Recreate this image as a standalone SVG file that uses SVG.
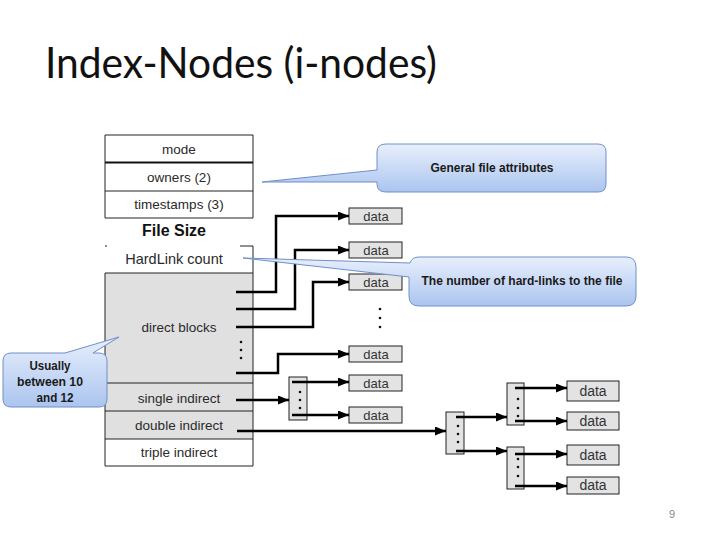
<svg xmlns="http://www.w3.org/2000/svg" width="720" height="540" viewBox="0 0 720 540">
<style>
.t{font-family:"Liberation Sans",Arial,sans-serif;fill:#2a2a2a;text-anchor:middle}
.row{font-size:13.5px}
.dt{font-size:13px;fill:#333}
.dtb{font-size:14px;fill:#333}
.cl{font-family:"Liberation Sans",Arial,sans-serif;font-weight:bold;font-size:12px;fill:#1a1a1a;text-anchor:middle}
.bx{fill:#e3e3e3;stroke:#222;stroke-width:1}
.ib{fill:#e3e3e3;stroke:#222;stroke-width:1}
.ln{fill:none;stroke:#000;stroke-width:2.5}
.co{fill:url(#cg);stroke:#6f8fc8;stroke-width:1}
.dot{fill:#111}
</style>
<defs>
<marker id="ah" markerUnits="userSpaceOnUse" markerWidth="12" markerHeight="10" refX="11" refY="4.5" orient="auto">
<path d="M0,0 L11,4.5 L0,9 z" fill="#000"/>
</marker>
<linearGradient id="cg" x1="0" y1="0" x2="0" y2="1">
<stop offset="0" stop-color="#e8effc"/>
<stop offset="1" stop-color="#abc5ef"/>
</linearGradient>
</defs>
<rect width="720" height="540" fill="#fff"/>
<text x="45" y="78" font-family="Lato,'Liberation Sans',Arial,sans-serif" font-size="42" fill="#111" textLength="392" lengthAdjust="spacingAndGlyphs">Index-Nodes (i-nodes)</text>

<g id="inode">
<rect x="105" y="273" width="148" height="166" fill="#e0e0e0"/>
<path d="M105,135 H253 M105,135 V218 M253,135 V218 M105,273 V466 M253,246 V466 M105,466 H253 M105,191 H253 M105,218 H253 M105,273 H253 M105,383 H253 M105,411 H253 M105,439 H253 M105,246 H107 M240,246 H253" fill="none" stroke="#222" stroke-width="1"/>
<path d="M105,162.5 H253" stroke="#111" stroke-width="2"/>
<text class="t row" x="179" y="154">mode</text>
<text class="t row" x="179" y="182">owners (2)</text>
<text class="t row" x="179" y="209">timestamps (3)</text>
<text class="t" x="174" y="236" font-size="16" font-weight="bold" style="fill:#111">File Size</text>
<text class="t" x="174" y="264" font-size="14.5">HardLink count</text>
<text class="t row" x="179" y="332">direct blocks</text>
<circle class="dot" cx="241" cy="342" r="1.3"/>
<circle class="dot" cx="241" cy="350" r="1.3"/>
<circle class="dot" cx="241" cy="358" r="1.3"/>
<text class="t row" x="179" y="403">single indirect</text>
<text class="t row" x="179" y="430">double indirect</text>
<text class="t row" x="179" y="457">triple indirect</text>
</g>

<g id="data-direct">
<rect class="bx" x="349" y="208" width="53" height="16"/><text class="t dt" x="376" y="221">data</text>
<rect class="bx" x="349" y="242" width="53" height="16"/><text class="t dt" x="376" y="255">data</text>
<rect class="bx" x="349" y="274" width="53" height="16"/><text class="t dt" x="376" y="287">data</text>
<circle class="dot" cx="380" cy="309" r="1.3"/>
<circle class="dot" cx="380" cy="318" r="1.3"/>
<circle class="dot" cx="380" cy="327" r="1.3"/>
<rect class="bx" x="349" y="346" width="53" height="16"/><text class="t dt" x="376" y="359">data</text>
<rect class="bx" x="349" y="375" width="53" height="16"/><text class="t dt" x="376" y="388">data</text>
<rect class="bx" x="349" y="407" width="53" height="16"/><text class="t dt" x="376" y="420">data</text>
</g>

<g id="single-block">
<rect class="ib" x="289" y="377" width="18" height="43"/>
<circle class="dot" cx="300" cy="392" r="1.3"/>
<circle class="dot" cx="300" cy="400" r="1.3"/>
<circle class="dot" cx="300" cy="408" r="1.3"/>
</g>
<g id="double-block">
<rect class="ib" x="446" y="412" width="18" height="42"/>
<circle class="dot" cx="458" cy="426" r="1.3"/>
<circle class="dot" cx="458" cy="434" r="1.3"/>
<circle class="dot" cx="458" cy="442" r="1.3"/>
</g>
<g id="block-a">
<rect class="ib" x="507" y="383" width="17" height="42"/>
<circle class="dot" cx="518" cy="399" r="1.3"/>
<circle class="dot" cx="518" cy="408" r="1.3"/>
<circle class="dot" cx="518" cy="416" r="1.3"/>
</g>
<g id="block-b">
<rect class="ib" x="507" y="447" width="17" height="42"/>
<circle class="dot" cx="518" cy="459" r="1.3"/>
<circle class="dot" cx="518" cy="467" r="1.3"/>
<circle class="dot" cx="518" cy="476" r="1.3"/>
</g>
<g id="data-indirect">
<rect class="bx" x="567" y="381" width="52" height="20"/><text class="t dtb" x="593" y="396">data</text>
<rect class="bx" x="567" y="412" width="52" height="18"/><text class="t dtb" x="593" y="426">data</text>
<rect class="bx" x="567" y="445" width="52" height="20"/><text class="t dtb" x="593" y="460">data</text>
<rect class="bx" x="567" y="477" width="52" height="17"/><text class="t dtb" x="593" y="490">data</text>
</g>

<g id="connectors">
<path class="ln" marker-end="url(#ah)" d="M236,292 H276 V216 H349"/>
<path class="ln" marker-end="url(#ah)" d="M236,309 H295 V250 H349"/>
<path class="ln" marker-end="url(#ah)" d="M236,327 H313 V282 H349"/>
<path class="ln" marker-end="url(#ah)" d="M236,373 H278 V354 H349"/>
<path class="ln" marker-end="url(#ah)" d="M236,400 H289"/>
<path class="ln" marker-end="url(#ah)" d="M292,382 H349"/>
<path class="ln" marker-end="url(#ah)" d="M292,415 H349"/>
<path class="ln" marker-end="url(#ah)" d="M237,431 H446"/>
<path class="ln" marker-end="url(#ah)" d="M456,417 H507"/>
<path class="ln" marker-end="url(#ah)" d="M456,451 H507"/>
<path class="ln" marker-end="url(#ah)" d="M515,388 H567"/>
<path class="ln" marker-end="url(#ah)" d="M515,421 H567"/>
<path class="ln" marker-end="url(#ah)" d="M515,454 H567"/>
<path class="ln" marker-end="url(#ah)" d="M515,486 H567"/>
</g>

<g id="callout-general">
<path class="co" d="M386,144 H598 Q606,144 606,152 V184 Q606,192 598,192 H386 Q377,192 377,184 V182 L262,182 L377,170 V152 Q377,144 386,144 Z"/>
<text class="cl" x="492" y="172" textLength="123" lengthAdjust="spacingAndGlyphs">General file attributes</text>
</g>
<g id="callout-hardlink">
<path class="co" d="M419,257 H626 Q636,257 636,267 V296 Q636,306 626,306 H419 Q409,306 409,296 V277 L243,258 L410,263 Q412,257 419,257 Z"/>
<text class="cl" x="522" y="285" textLength="201" lengthAdjust="spacingAndGlyphs">The number of hard-links to the file</text>
</g>
<g id="callout-usually">
<path class="co" d="M11,353 H65 L119,337 L93,353 H99 Q107,353 107,361 V399 Q107,407 99,407 H11 Q3,407 3,399 V361 Q3,353 11,353 Z"/>
<text class="cl" x="50" y="370" textLength="41" lengthAdjust="spacingAndGlyphs">Usually</text>
<text class="cl" x="50" y="386" textLength="66" lengthAdjust="spacingAndGlyphs">between 10</text>
<text class="cl" x="55" y="402" textLength="37" lengthAdjust="spacingAndGlyphs">and 12</text>
</g>
<text x="672" y="518" font-family="Liberation Sans,Arial,sans-serif" font-size="11" fill="#888" text-anchor="middle">9</text>
</svg>
